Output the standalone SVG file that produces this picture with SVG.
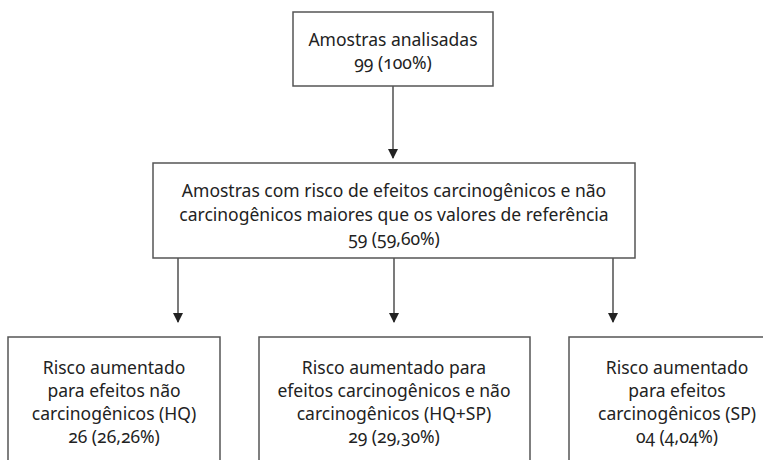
<svg xmlns="http://www.w3.org/2000/svg" width="763" height="460" viewBox="0 0 763 460">
<defs>
<marker id="ah" markerWidth="10" markerHeight="10" refX="9" refY="5" orient="auto" markerUnits="userSpaceOnUse">
<path d="M0,0 L10,5 L0,10 Z" fill="#222"/>
</marker>
<style>
.box{fill:#fff;stroke:#555;stroke-width:1.5}
.t{font-family:"Noto Sans","Open Sans","DejaVu Sans",sans-serif;font-size:17.5px;fill:#222;text-anchor:middle;font-variant-numeric:oldstyle-nums}
.c{stroke:#222;stroke-width:1.2;fill:none;marker-end:url(#ah)}
</style>
</defs>
<rect width="763" height="460" fill="#fff"/>
<g id="connectors">
<line class="c" x1="393" y1="86" x2="393" y2="158"/>
<line class="c" x1="178" y1="258" x2="178" y2="322"/>
<line class="c" x1="394" y1="258" x2="394" y2="322"/>
<line class="c" x1="613" y1="258" x2="613" y2="322"/>
</g>
<g id="n1">
<rect class="box" x="293" y="12" width="200" height="74"/>
<text class="t" x="393" y="46">Amostras analisadas</text>
<text class="t" x="393" y="69">99 (100%)</text>
</g>
<g id="n2">
<rect class="box" x="153" y="163" width="482" height="95"/>
<text class="t" x="394" y="197">Amostras com risco de efeitos carcinogênicos e não</text>
<text class="t" x="394" y="221">carcinogênicos maiores que os valores de referência</text>
<text class="t" x="394" y="245">59 (59,60%)</text>
</g>
<g id="n3">
<rect class="box" x="8" y="337" width="212" height="140"/>
<text class="t" x="114" y="374">Risco aumentado</text>
<text class="t" x="114" y="397">para efeitos não</text>
<text class="t" x="114" y="420">carcinogênicos (HQ)</text>
<text class="t" x="114" y="443">26 (26,26%)</text>
</g>
<g id="n4">
<rect class="box" x="259" y="337" width="271" height="140"/>
<text class="t" x="394" y="374">Risco aumentado para</text>
<text class="t" x="394" y="397">efeitos carcinogênicos e não</text>
<text class="t" x="394" y="420">carcinogênicos (HQ+SP)</text>
<text class="t" x="394" y="443">29 (29,30%)</text>
</g>
<g id="n5">
<rect class="box" x="569" y="337" width="216" height="140"/>
<text class="t" x="677" y="374">Risco aumentado</text>
<text class="t" x="677" y="397">para efeitos</text>
<text class="t" x="677" y="420">carcinogênicos (SP)</text>
<text class="t" x="677" y="443">04 (4,04%)</text>
</g>
</svg>
